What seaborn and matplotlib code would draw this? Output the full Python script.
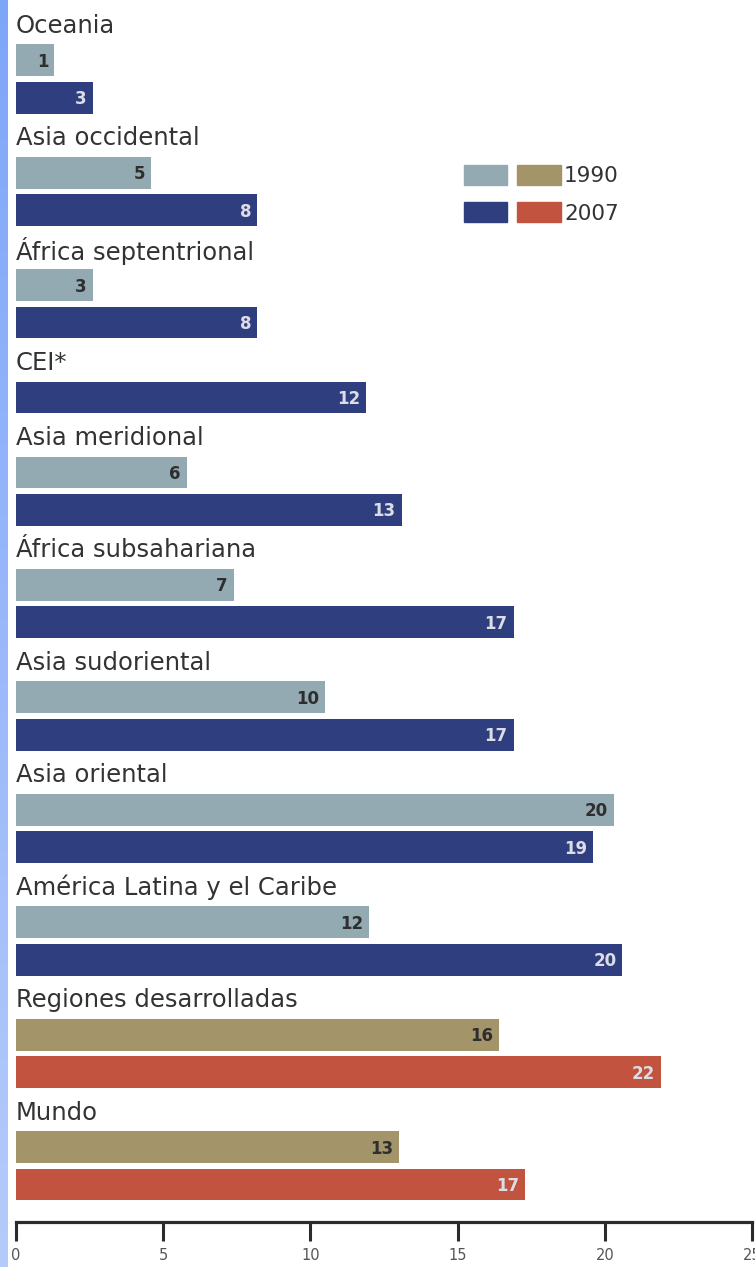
import matplotlib
matplotlib.use("Agg")
import matplotlib.pyplot as plt
from matplotlib.patches import Patch
from matplotlib.legend_handler import HandlerTuple
import numpy as np
import pandas as pd
import seaborn as sns

regions = ["Oceania", "Asia occidental", "África septentrional", "CEI*",
           "Asia meridional", "África subsahariana", "Asia sudoriental",
           "Asia oriental", "América Latina y el Caribe",
           "Regiones desarrolladas", "Mundo"]
kinds = ["reg"] * 9 + ["dev"] * 2
v1990 = [1.3, 4.6, 2.6, None, 5.8, 7.4, 10.5, 20.3, 12.0, 16.4, 13.0]
v2007 = [2.6, 8.2, 8.2, 11.9, 13.1, 16.9, 16.9, 19.6, 20.6, 21.9, 17.3]
lab1990 = ["1", "5", "3", None, "6", "7", "10", "20", "12", "16", "13"]
lab2007 = ["3", "8", "8", "12", "13", "17", "17", "19", "20", "22", "17"]
xticks = [0, 5, 10, 15, 20, 25]

palette = {"1990_reg": "#94aab3", "2007_reg": "#2e3e7e",
           "1990_dev": "#a3946a", "2007_dev": "#c1533f"}
text_col = {"1990": "#2e2e2e", "2007": "#dcdde6"}

# build slot order: label row, then bars
order, rows = [], []
for i, name in enumerate(regions):
    order.append(f"L{i}")
    for year, vals, labs in (("1990", v1990, lab1990), ("2007", v2007, lab2007)):
        if vals[i] is None:
            continue
        r = f"{i}_{year}"
        order.append(r)
        rows.append({"row": r, "value": vals[i], "key": f"{year}_{kinds[i]}",
                     "year": year, "label": labs[i]})
df = pd.DataFrame(rows)

sns.set_style("white")
plt.rcParams["font.family"] = ["DejaVu Sans"]

W, H = 755, 1267
fig = plt.figure(figsize=(W / 100, H / 100), dpi=100)
ax = fig.add_axes([16 / W, 1 - 1222 / H, 736 / W, (1222 - 4) / H])

sns.barplot(data=df, x="value", y="row", hue="key", palette=palette, order=order,
            dodge=False, width=0.85, saturation=1, legend=False, linewidth=0, ax=ax)

for _, r in df.iterrows():
    ax.text(r["value"] - 0.2, order.index(r["row"]) + 0.04, r["label"],
            ha="right", va="center", fontsize=12, fontweight="bold",
            color=text_col[r["year"]])

for i, name in enumerate(regions):
    ax.text(0.0, order.index(f"L{i}") + 0.08, name, ha="left", va="center",
            fontsize=17.5, color="#333333")

ax.set_xlim(0, 25)
ax.set_ylim(32.0, -0.5)
ax.set_xticks(xticks)
ax.set_xticklabels([str(t) for t in xticks], fontsize=10.5, color="#555555")
ax.set_yticks([])
ax.set_xlabel("")
ax.set_ylabel("")
for s in ["top", "right", "left"]:
    ax.spines[s].set_visible(False)
ax.spines["bottom"].set_linewidth(2.3)
ax.spines["bottom"].set_color("#2b2b2b")
ax.tick_params(axis="x", bottom=True, direction="out", length=14, width=2.2,
               color="#2b2b2b", pad=5)

handles = [(Patch(color=palette["1990_reg"]), Patch(color=palette["1990_dev"])),
           (Patch(color=palette["2007_reg"]), Patch(color=palette["2007_dev"]))]
fig.legend(handles, ["1990", "2007"],
           handler_map={tuple: HandlerTuple(ndivide=None, pad=0.47)},
           loc="upper left", bbox_to_anchor=(464 / W, 1 - 165 / H),
           bbox_transform=fig.transFigure, borderaxespad=0, borderpad=0,
           frameon=False, fontsize=15.5, handlelength=4.5, handleheight=1.05,
           handletextpad=0.15, labelspacing=0.75, labelcolor="#333333")

# left blue strip
strip = fig.add_axes([0, 0, 8 / W, 1])
grad = np.linspace(0, 1, 256).reshape(-1, 1)
strip.imshow(grad, aspect="auto", cmap=matplotlib.colors.LinearSegmentedColormap.from_list(
    "s", ["#7ea6f8", "#b5cbfb"]))
strip.axis("off")

fig.savefig("out.png", dpi=100)
